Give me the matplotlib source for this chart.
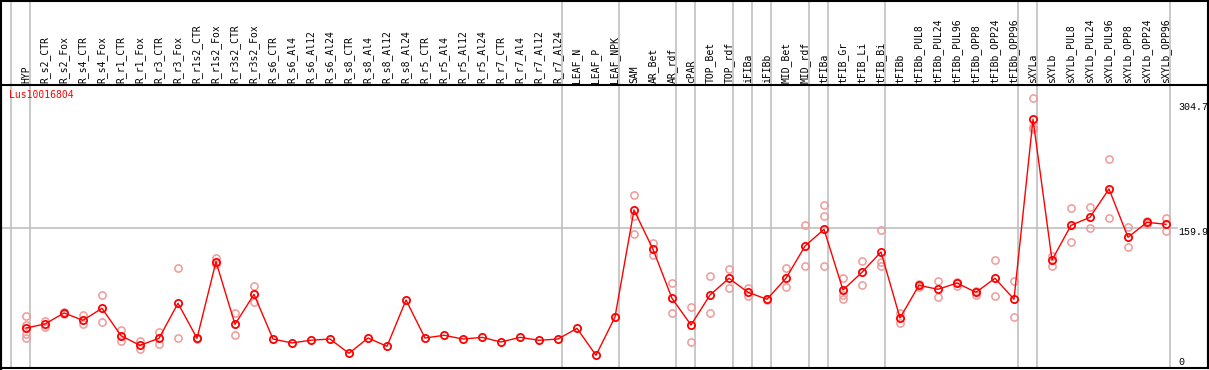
import matplotlib
matplotlib.use("Agg")
import matplotlib.pyplot as plt
import numpy as np
from matplotlib.transforms import blended_transform_factory
from matplotlib.lines import Line2D

categories = ["HYP", "R_s2_CTR", "R_s2_Fox", "R_s4_CTR", "R_s4_Fox", "R_r1_CTR", "R_r1_Fox",
              "R_r3_CTR", "R_r3_Fox", "R_r1s2_CTR", "R_r1s2_Fox", "R_r3s2_CTR", "R_r3s2_Fox",
              "R_s6_CTR", "R_s6_Al4", "R_s6_Al12", "R_s6_Al24", "R_s8_CTR", "R_s8_Al4",
              "R_s8_Al12", "R_s8_Al24", "R_r5_CTR", "R_r5_Al4", "R_r5_Al12", "R_r5_Al24",
              "R_r7_CTR", "R_r7_Al4", "R_r7_Al12", "R_r7_Al24", "LEAF_N", "LEAF_P", "LEAF_NPK",
              "SAM", "AR_Bet", "AR_rdf", "cPAR", "TOP_Bet", "TOP_rdf", "iFIBa", "iFIBb",
              "MID_Bet", "MID_rdf", "tFIBa", "tFIB_Gr", "tFIB_Li", "tFIB_Bi", "tFIBb",
              "tFIBb_PUL8", "tFIBb_PUL24", "tFIBb_PUL96", "tFIBb_OPP8", "tFIBb_OPP24",
              "tFIBb_OPP96", "sXYLa", "sXYLb", "sXYLb_PUL8", "sXYLb_PUL24", "sXYLb_PUL96",
              "sXYLb_OPP8", "sXYLb_OPP24", "sXYLb_OPP96"]

means = [40.2, 45, 58.2, 49.4, 63.8, 31, 19.5, 27.9, 69.8, 27.9, 119.6, 44.6, 80.5,
         27, 22.3, 25.6, 27, 9.9, 28.2, 18.3, 73.7, 28.2, 31.5, 27, 29, 23.5, 29, 25.5, 27,
         39.8, 7.5, 53.4, 181.4, 134.4, 75.7, 43.8, 79.7, 99.7, 82.9, 74.6, 99.7, 138.3,
         158.3, 85.7, 106.9, 131.2, 52.2, 91.3, 86.5, 94, 82.9, 99.7, 74.6, 290, 121.6,
         163.1, 172.7, 206.6, 148.8, 166.7, 164.3]

replicates = [
    [54.2, 43.8, 32.7, 28.6], [49, 41], [59, 57.5], [55.4, 44.6], [79.3, 47.4],
    [37.8, 25], [25, 15.5], [35, 20.7], [111.6, 27.9], [28.5, 27], [124.4, 116.4],
    [57.8, 31.5], [90.1, 71],
    [], [], [], [], [], [], [], [], [], [], [], [], [], [], [], [], [], [], [],
    [199.8, 174.2, 152.7], [142.3, 127.6], [93.7, 57.8], [65.3, 23.5], [102.1, 57.8],
    [110.8, 87.7], [88.5, 78.5], [75.5, 73.5], [111.7, 88.9], [163.1, 114],
    [187, 174.2, 114], [100, 79.7, 74.6], [120, 92], [157.5, 119.6, 114.4],
    [57.8, 45.8], [92.5, 89.5], [96.5, 77.7], [95, 91], [85, 80], [121.2, 78.1],
    [96.5, 53], [315, 281, 278], [126.4, 114.8], [183.5, 143.5], [185, 159.5],
    [242.5, 171.9], [161.1, 136.8], [168, 165], [172.2, 156.7],
]

group_sizes = [1, 28, 3, 3, 1, 2, 1, 1, 2, 1, 3, 7, 1, 7]
gene = "Lus10016804"
scale_labels = ["304.7", "159.9", "0"]
scale_values = [304.7, 159.9, 0]

W, H = 1209, 370
fig = plt.figure(figsize=(W / 100, H / 100), dpi=100)

top_px, bot_px = 85, 368
left_px, right_px = 1, 1208
ax = fig.add_axes([left_px / W, 1 - bot_px / H, (right_px - left_px) / W, (bot_px - top_px) / H])
ax.set_xlim((left_px - 26) / 19, (right_px - 26) / 19)
ax.set_ylim((361.6 - bot_px) / 0.8356, (361.6 - top_px) / 0.8356)
ax.set_xticks([])
ax.set_yticks([])
for s in ax.spines.values():
    s.set_color("black")
    s.set_linewidth(1.5)

x = np.arange(len(categories))

# group separators
bounds = np.cumsum([0] + group_sizes) - 1
ext = (bot_px - 0) / (bot_px - top_px)
for b in bounds:
    ax.axvline(b + 0.21, ymin=0, ymax=ext, color="#c0c0c0", lw=1.2, clip_on=False, zorder=1)

# reference line at 159.9
ax.axhline(scale_values[1], xmin=0, xmax=(1177 - left_px) / (right_px - left_px),
           color="#c0c0c0", lw=1.2, zorder=1)

# replicates
for i, reps in enumerate(replicates):
    if reps:
        ax.plot([x[i]] * len(reps), reps, linestyle="none", marker="o", ms=5.2,
                mfc="none", mec="#f09a9a", mew=1.1, zorder=2)

ax.plot(x, means, color="red", lw=1.0, marker="o", ms=5.2, mfc="none", mec="red",
        mew=1.3, zorder=3)

# category labels
tr = blended_transform_factory(ax.transData, fig.transFigure)
for i, c in enumerate(categories):
    ax.text(x[i], 1 - 83 / H, c, rotation=90, ha="center", va="bottom",
            fontsize=7, family="DejaVu Sans Mono", transform=tr, clip_on=False)

ax.text(-0.9, 319, gene, color="red", fontsize=7, family="DejaVu Sans Mono",
        ha="left", va="center")

label_offsets = [-0.5, -4.5, -0.5]
for lbl, v, off in zip(scale_labels, scale_values, label_offsets):
    ax.text((1178 - 26) / 19, v + off, lbl, fontsize=7.2, family="Liberation Mono",
            ha="left", va="center")

# outer frame & separator line
fig.add_artist(Line2D([0.5 / W, 0.5 / W], [0, 1], color="black", lw=1.5))
fig.add_artist(Line2D([0, 1], [1 - 0.5 / H, 1 - 0.5 / H], color="black", lw=1.5))
fig.add_artist(Line2D([right_px / W, right_px / W], [1 - bot_px / H, 1], color="black", lw=1.5))

fig.savefig("out.png", dpi=100)
